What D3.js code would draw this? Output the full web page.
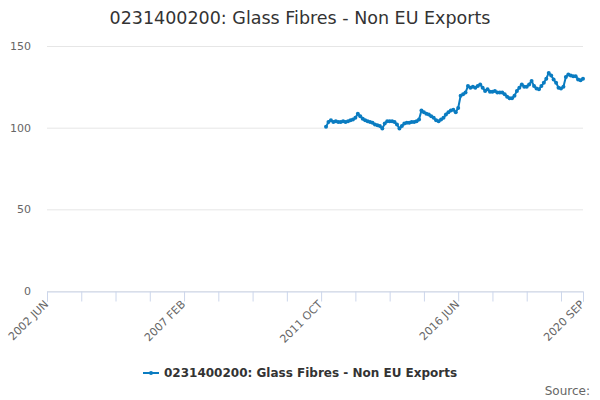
<!DOCTYPE html>
<html lang="en">
<head>
    <meta charset="UTF-8">
    <title>0231400200: Glass Fibres - Non EU Exports</title>
    <style>
        body { margin: 0; background: #fff; }
        text { font-family: "DejaVu Sans", Verdana, sans-serif; }
    </style>
</head>
<body>

<div id="chart"></div>

<script src="https://cdnjs.cloudflare.com/ajax/libs/d3/7.8.5/d3.min.js"></script>
<script>
    const width = 600,
          height = 400;

    const title = "0231400200: Glass Fibres - Non EU Exports";
    const monthNames = ["JAN", "FEB", "MAR", "APR", "MAY", "JUN", "JUL", "AUG", "SEP", "OCT", "NOV", "DEC"];

    // categories: every month from 2002 JUN to 2020 SEP
    const firstMonth = new Date(2002, 5, 1),
          lastMonth = new Date(2020, 8, 1);
    const months = d3.timeMonth.range(firstMonth, d3.timeMonth.offset(lastMonth, 1))
        .map(d => d.getFullYear() + " " + monthNames[d.getMonth()]);

    // series starts 2011 DEC
    const seriesStart = "2011 DEC";
    const values = [
        100.5, 103.5, 104.5, 103.5, 104, 103.5, 103.5, 104, 103.5, 104,
        104.5, 105, 106, 108.5, 107, 105.5, 104.5, 104, 103.5, 103,
        102, 101.5, 101, 99.5, 102.5, 104, 104, 104, 103.5, 102,
        99.5, 101, 102.5, 103, 103, 103.5, 103.5, 104, 105, 110.5,
        109.5, 108.5, 108, 107, 106, 104.5, 104, 105, 106, 108,
        109.5, 110.5, 111, 109.5, 112, 119.5, 120.5, 121.5, 125.5, 124.5,
        125, 124.5, 125.5, 126.5, 124.5, 122.5, 123.5, 122, 122, 122.5,
        121.5, 121.5, 121.5, 120.5, 119, 118, 118, 119.5, 122.5, 124.5,
        126.5, 125, 125, 126.5, 128.5, 125.5, 124, 123.5, 125.5, 127.5,
        130, 133.5, 132, 129.5, 127.5, 124.5, 124, 125, 131, 132.5,
        132, 131.5, 131.5, 129.5, 129, 130
    ];

    const yTicks = [0, 50, 100, 150];
    const tickLabels = ["2002 JUN", "2007 FEB", "2011 OCT", "2016 JUN", "2020 SEP"];

    const startIdx = months.indexOf(seriesStart);
    const data = values.map((v, i) => ({ month: months[startIdx + i], value: v }));

    const margin = { top: 46, right: 17, bottom: 109, left: 47 };

    let svg = d3.select("#chart")
        .append("svg")
        .attr("width", width)
        .attr("height", height);

    let x = d3.scalePoint()
        .domain(months)
        .range([margin.left, width - margin.right]);

    let y = d3.scaleLinear()
        .domain([0, 150])
        .range([height - margin.bottom, margin.top]);

    // grid lines
    svg.append("g")
        .selectAll("line")
        .data(yTicks)
        .join("line")
            .attr("x1", margin.left)
            .attr("x2", width - margin.right)
            .attr("y1", d => y(d) + 0.5)
            .attr("y2", d => y(d) + 0.5)
            .attr("stroke", "#e6e6e6");

    // y labels
    svg.append("g")
        .selectAll("text")
        .data(yTicks)
        .join("text")
            .attr("x", margin.left - 16)
            .attr("y", d => y(d))
            .attr("dy", "0.35em")
            .attr("text-anchor", "end")
            .attr("fill", "#666")
            .style("font-size", "11px")
            .text(d => d);

    // x axis: ticks every 14 months plus the last one
    let tickMonths = months.filter((m, i) => i % 14 === 0);
    tickMonths.push(months[months.length - 1]);

    let xAxis = svg.append("g")
        .attr("transform", `translate(0,${height - margin.bottom + 0.5})`)
        .call(d3.axisBottom(x).tickValues(tickMonths).tickSize(10).tickFormat(""));
    xAxis.select(".domain").attr("stroke", "#ccd6eb");
    xAxis.selectAll(".tick line").attr("stroke", "#ccd6eb");

    svg.append("g")
        .selectAll("text")
        .data(tickLabels)
        .join("text")
            .attr("transform", d => `translate(${x(d) + 2},${height - margin.bottom + 14}) rotate(-45)`)
            .attr("text-anchor", "end")
            .attr("fill", "#666")
            .style("font-size", "11px")
            .text(d => d);

    // series
    const lineColor = "#0a7cc1";
    svg.append("path")
        .datum(data)
        .attr("fill", "none")
        .attr("stroke", lineColor)
        .attr("stroke-width", 2)
        .attr("stroke-linejoin", "round")
        .attr("d", d3.line().x(d => x(d.month)).y(d => y(d.value)));

    svg.append("g")
        .selectAll("circle")
        .data(data)
        .join("circle")
            .attr("cx", d => x(d.month))
            .attr("cy", d => y(d.value))
            .attr("r", 2)
            .attr("fill", lineColor);

    // title
    svg.append("text")
        .attr("x", width / 2)
        .attr("y", 24)
        .attr("text-anchor", "middle")
        .attr("fill", "#333")
        .style("font-size", "17.5px")
        .text(title);

    // legend
    let legend = svg.append("g")
        .attr("transform", "translate(143,373)");
    legend.append("line")
        .attr("x1", 0).attr("x2", 16)
        .attr("stroke", lineColor)
        .attr("stroke-width", 2);
    legend.append("circle")
        .attr("cx", 8).attr("r", 2)
        .attr("fill", lineColor);
    legend.append("text")
        .attr("x", 21)
        .attr("dy", "0.35em")
        .attr("fill", "#333")
        .style("font-size", "12px")
        .style("font-weight", "bold")
        .text(title);

    // credits
    svg.append("text")
        .attr("x", width - 10)
        .attr("y", 395)
        .attr("text-anchor", "end")
        .attr("fill", "#666")
        .style("font-size", "12px")
        .text("Source:");
</script>
</body>
</html>
